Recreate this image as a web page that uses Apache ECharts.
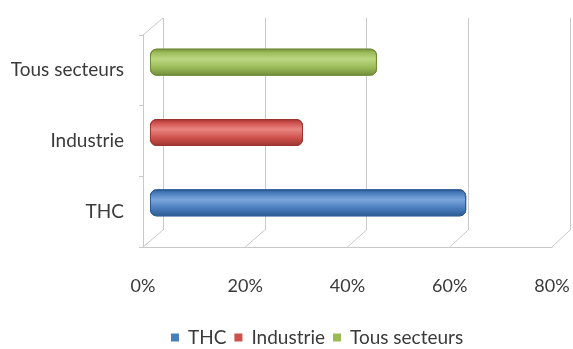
<!DOCTYPE html>
<html>
<head>
<meta charset="utf-8">
<script src="https://cdn.jsdelivr.net/npm/echarts@6/dist/echarts.min.js"></script>
<style>
  html, body { margin: 0; padding: 0; background: #ffffff; }
  #chart { width: 573px; height: 349px; }
</style>
</head>
<body>
<div id="chart"></div>
<script>
// Sector categories, bottom to top on the vertical axis
const categories = ['THC', 'Industrie', 'Tous secteurs'];
// Share per sector, in percent
const shares = [62, 30, 44.5];
// Value-axis ticks (percent)
const percentTicks = [0, 20, 40, 60, 80];

// Cylinder shading per sector: [dark edge, base, highlight]
const palettes = [
  ['#2c5a92', '#4a7dbd', '#7aa5da'],
  ['#9b3431', '#d0504c', '#e98581'],
  ['#6f8c38', '#9bbb59', '#bdd881']
];

const FONT = 'Lato, "Liberation Sans", Arial, sans-serif';
const TEXT = '#3a3a3a';
const LINE = '#c9c9c9';

// Front plane (axis labels), back wall (gridlines) and the mid-depth plane for bars
const frontGrid = { left: 143, top: 35, width: 409, height: 212 };
const backGrid  = { left: 163, top: 18, width: 407, height: 212 };
const barGrid   = { left: 150, top: 27, width: 408, height: 211 };

function cylinder(p) {
  return {
    type: 'linear', x: 0, y: 0, x2: 0, y2: 1,
    colorStops: [
      { offset: 0, color: p[0] },
      { offset: 0.14, color: p[1] },
      { offset: 0.38, color: p[2] },
      { offset: 0.7, color: p[1] },
      { offset: 1, color: p[0] }
    ]
  };
}

const series = categories.map((name, i) => ({
  name: name,
  type: 'bar',
  xAxisIndex: 2,
  yAxisIndex: 2,
  stack: 'sector',
  barWidth: 27,
  data: shares.map((v, j) => (j === i ? v : '-')),
  itemStyle: {
    color: cylinder(palettes[i]),
    borderColor: palettes[i][0],
    borderWidth: 1,
    borderRadius: 6
  },
  emphasis: { disabled: true }
}));

const valueAxisBase = {
  type: 'value',
  min: percentTicks[0],
  max: percentTicks[percentTicks.length - 1],
  interval: percentTicks[1] - percentTicks[0]
};

const option = {
  animation: false,
  backgroundColor: '#ffffff',
  color: palettes.map(p => p[1]),
  grid: [
    Object.assign({ containLabel: false }, frontGrid),
    Object.assign({ containLabel: false }, backGrid),
    Object.assign({ containLabel: false }, barGrid)
  ],
  xAxis: [
    Object.assign({}, valueAxisBase, {
      gridIndex: 0,
      axisLine: { show: true, lineStyle: { color: LINE, width: 1 } },
      axisTick: { show: false },
      splitLine: { show: false },
      axisLabel: {
        margin: 30,
        formatter: '{value}%',
        color: TEXT, fontFamily: FONT, fontSize: 18
      }
    }),
    Object.assign({}, valueAxisBase, {
      gridIndex: 1,
      axisLine: { show: false },
      axisTick: { show: false },
      axisLabel: { show: false },
      splitLine: { show: true, lineStyle: { color: LINE, width: 1 } }
    }),
    Object.assign({}, valueAxisBase, {
      gridIndex: 2, show: false
    })
  ],
  yAxis: [
    {
      type: 'category', gridIndex: 0, data: categories,
      axisLine: { show: true, lineStyle: { color: LINE, width: 1 } },
      axisTick: { show: true, length: 4, lineStyle: { color: LINE } },
      axisLabel: { margin: 19, color: TEXT, fontFamily: FONT, fontSize: 19 },
      splitLine: { show: false }
    },
    { type: 'category', gridIndex: 1, data: categories, show: false },
    { type: 'category', gridIndex: 2, data: categories, show: false }
  ],
  legend: {
    left: 166, top: 323,
    icon: 'rect', itemWidth: 8, itemHeight: 8, itemGap: 8,
    itemStyle: { borderWidth: 0, borderRadius: 0 },
    data: categories.map((name, i) => ({
      name: name,
      itemStyle: { color: palettes[i][1], borderWidth: 0, borderRadius: 0 }
    })),
    formatter: '{t|{name}}',
    textStyle: {
      color: TEXT, fontFamily: FONT, fontSize: 19,
      rich: { t: { color: TEXT, fontFamily: FONT, fontSize: 19, padding: [0, 0, 0, 4] } }
    },
    selectedMode: false
  },
  series: series
};

const chart = echarts.init(document.getElementById('chart'), null, { renderer: 'canvas' });
chart.setOption(option);

// Floor and wall edges joining the front plane to the back wall
const frontBottom = frontGrid.top + frontGrid.height;
const backBottom = backGrid.top + backGrid.height;
const edges = percentTicks.map(v => ({
  type: 'line', silent: true, z: 0,
  shape: {
    x1: chart.convertToPixel({ xAxisIndex: 0 }, v), y1: frontBottom,
    x2: chart.convertToPixel({ xAxisIndex: 1 }, v), y2: backBottom
  },
  style: { stroke: LINE, lineWidth: 1 }
}));
edges.push({
  type: 'line', silent: true, z: 0,
  shape: {
    x1: chart.convertToPixel({ xAxisIndex: 0 }, percentTicks[0]), y1: frontGrid.top,
    x2: chart.convertToPixel({ xAxisIndex: 1 }, percentTicks[0]), y2: backGrid.top
  },
  style: { stroke: LINE, lineWidth: 1 }
});
chart.setOption({ graphic: edges });
</script>
</body>
</html>
